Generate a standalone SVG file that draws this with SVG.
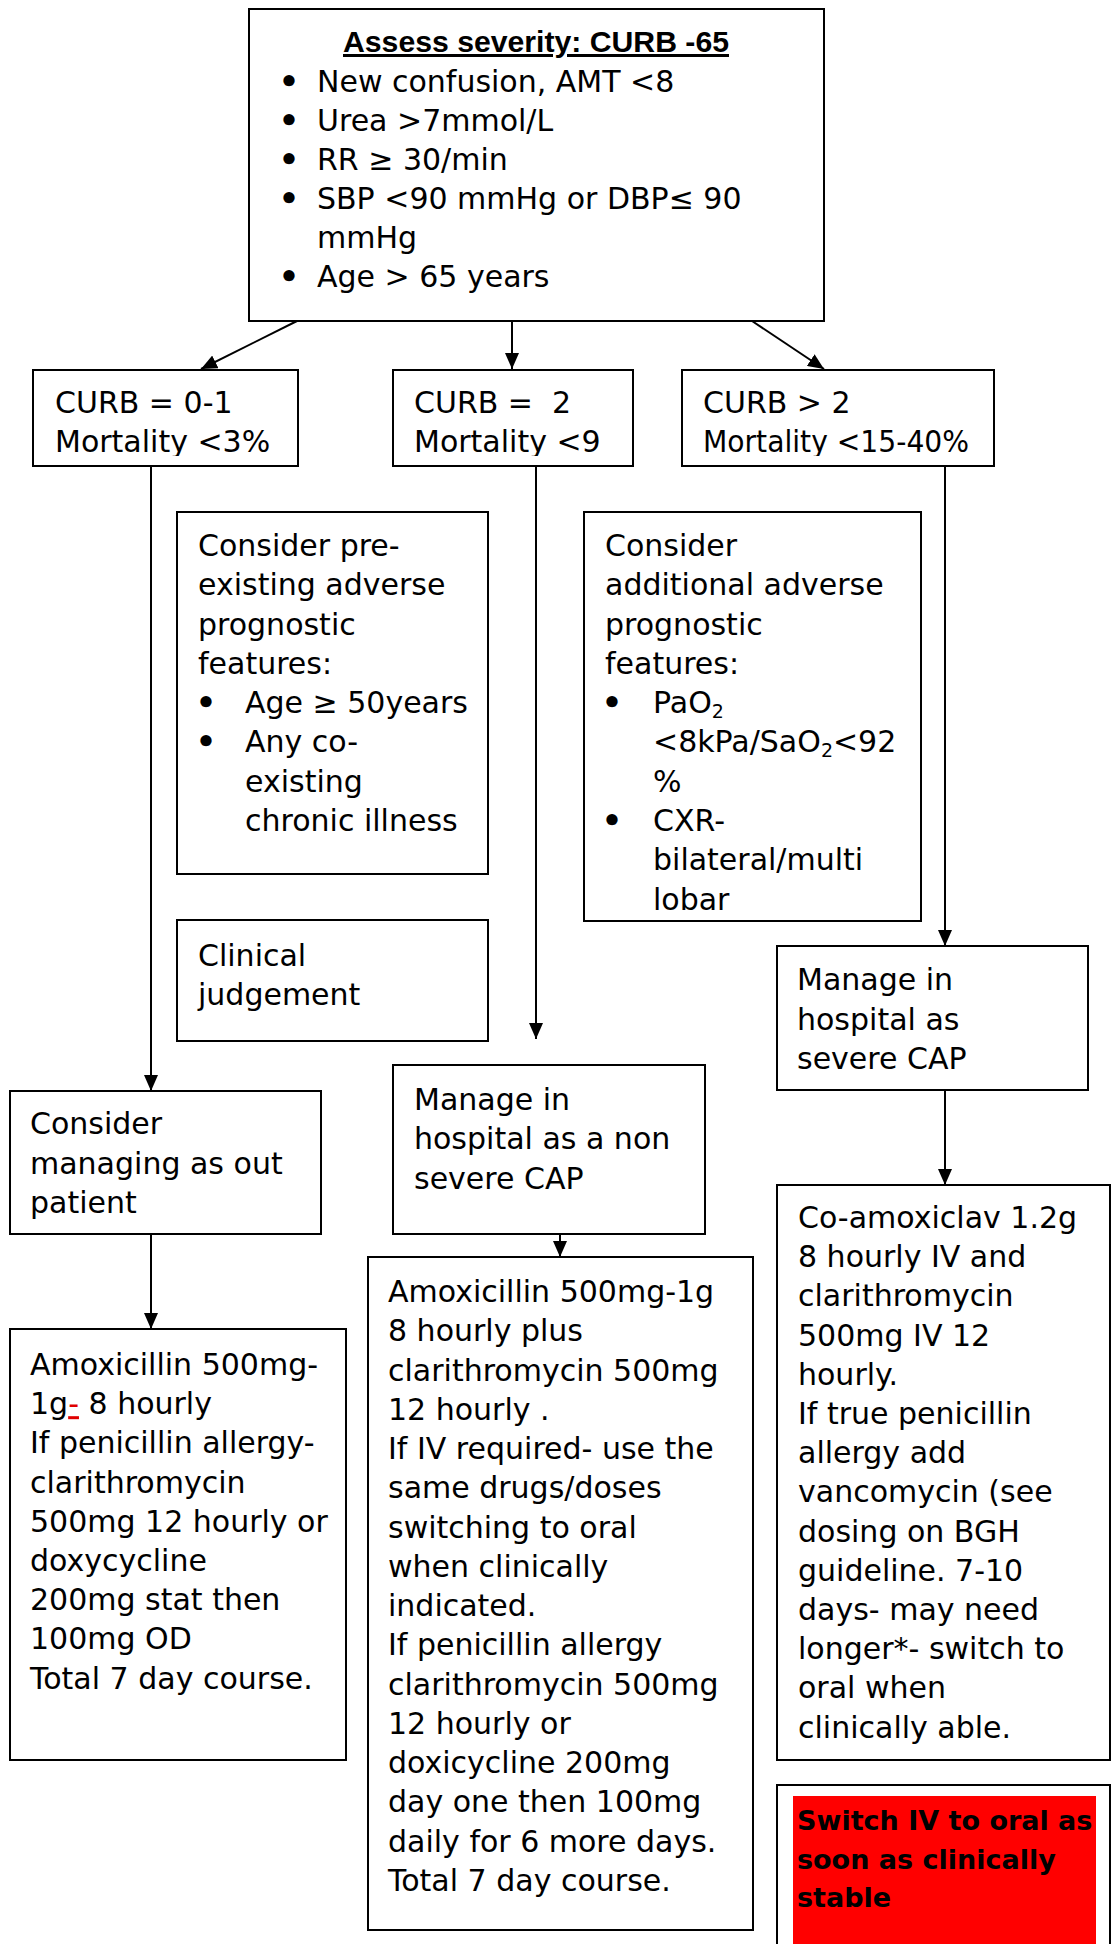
<svg xmlns="http://www.w3.org/2000/svg" width="1112" height="1944" viewBox="0 0 1112 1944">
<style>
.box{fill:#fff;stroke:#000;stroke-width:2}
.t{font-family:"DejaVu Sans","Liberation Sans",sans-serif;font-size:30px;fill:#000}
.b{font-family:"DejaVu Sans","Liberation Sans",sans-serif;font-weight:bold;fill:#000}
.bul{font-family:"DejaVu Sans","Liberation Sans",sans-serif;font-size:32px;font-weight:bold;fill:#000;text-anchor:middle}
.conn{stroke:#000;stroke-width:2;fill:none;marker-end:url(#arr)}
</style>
<defs>
<marker id="arr" viewBox="0 0 16 14" refX="16" refY="7" markerWidth="16" markerHeight="14" orient="auto" markerUnits="userSpaceOnUse">
<path d="M0,0 L16,7 L0,14 z" fill="#000"/>
</marker>
<clipPath id="clipA"><rect x="33" y="370" width="265" height="86"/></clipPath>
<clipPath id="clipB"><rect x="393" y="370" width="240" height="86"/></clipPath>
<clipPath id="clipC"><rect x="682" y="370" width="312" height="86"/></clipPath>
</defs>
<rect x="0" y="0" width="1112" height="1944" fill="#fff"/>

<g id="connectors">
<line class="conn" x1="297" y1="321" x2="201" y2="369"/>
<line class="conn" x1="512" y1="321" x2="512" y2="369"/>
<line class="conn" x1="752" y1="321" x2="824" y2="369"/>
<line class="conn" x1="151" y1="466" x2="151" y2="1091"/>
<line class="conn" x1="536" y1="466" x2="536" y2="1039"/>
<line class="conn" x1="945" y1="466" x2="945" y2="946"/>
<line class="conn" x1="151" y1="1234" x2="151" y2="1329"/>
<line class="conn" x1="560" y1="1234" x2="560" y2="1257"/>
<line class="conn" x1="945" y1="1090" x2="945" y2="1185"/>
</g>

<g id="assess">
<rect class="box" x="249" y="9" width="575" height="312"/>
<text x="536" y="52" font-family="'Liberation Sans',Arial,sans-serif" font-weight="bold" font-size="30" fill="#000" text-anchor="middle" text-decoration="underline" textLength="386" lengthAdjust="spacingAndGlyphs">Assess severity: CURB -65</text>
<text class="bul" x="289" y="93">•</text>
<text class="bul" x="289" y="132">•</text>
<text class="bul" x="289" y="171">•</text>
<text class="bul" x="289" y="210">•</text>
<text class="bul" x="289" y="288">•</text>
<text class="t" x="317" y="92"><tspan x="317">New confusion, AMT &lt;8</tspan><tspan x="317" dy="39">Urea &gt;7mmol/L</tspan><tspan x="317" dy="39">RR ≥ 30/min</tspan><tspan x="317" dy="39">SBP &lt;90 mmHg or DBP≤ 90</tspan><tspan x="317" dy="39">mmHg</tspan><tspan x="317" dy="39">Age &gt; 65 years</tspan></text>
</g>

<g id="curb01">
<rect class="box" x="33" y="370" width="265" height="96"/>
<text class="t" x="55" y="413" clip-path="url(#clipA)"><tspan x="55">CURB = 0-1</tspan><tspan x="55" dy="39">Mortality &lt;3%</tspan></text>
</g>

<g id="curb2">
<rect class="box" x="393" y="370" width="240" height="96"/>
<text class="t" x="414" y="413" clip-path="url(#clipB)" xml:space="preserve"><tspan x="414">CURB =  2</tspan><tspan x="414" dy="39">Mortality &lt;9</tspan></text>
</g>

<g id="curb3">
<rect class="box" x="682" y="370" width="312" height="96"/>
<text class="t" x="703" y="413" clip-path="url(#clipC)"><tspan x="703">CURB &gt; 2</tspan><tspan x="703" dy="39" textLength="266" lengthAdjust="spacingAndGlyphs">Mortality &lt;15-40%</tspan></text>
</g>

<g id="preexisting">
<rect class="box" x="177" y="512" width="311" height="362"/>
<text class="t" x="198" y="556"><tspan x="198">Consider pre-</tspan><tspan x="198" dy="39.3">existing adverse</tspan><tspan x="198" dy="39.3">prognostic</tspan><tspan x="198" dy="39.3">features:</tspan></text>
<text class="bul" x="206" y="714">•</text>
<text class="bul" x="206" y="753">•</text>
<text class="t" x="245" y="713"><tspan x="245">Age ≥ 50years</tspan><tspan x="245" dy="39.3">Any co-</tspan><tspan x="245" dy="39.3">existing</tspan><tspan x="245" dy="39.3">chronic illness</tspan></text>
</g>

<g id="clinical">
<rect class="box" x="177" y="920" width="311" height="121"/>
<text class="t" x="198" y="966"><tspan x="198">Clinical</tspan><tspan x="198" dy="39">judgement</tspan></text>
</g>

<g id="additional">
<rect class="box" x="584" y="512" width="337" height="409"/>
<text class="t" x="605" y="556"><tspan x="605">Consider</tspan><tspan x="605" dy="39.3">additional adverse</tspan><tspan x="605" dy="39.3">prognostic</tspan><tspan x="605" dy="39.3">features:</tspan></text>
<text class="bul" x="612" y="714">•</text>
<text class="bul" x="612" y="832">•</text>
<text class="t" x="653" y="713">PaO<tspan font-size="19" dy="5">2</tspan></text>
<text class="t" x="653" y="752">&lt;8kPa/SaO<tspan font-size="19" dy="5">2</tspan><tspan dy="-5">&lt;92</tspan></text>
<text class="t" x="653" y="792">%</text>
<text class="t" x="653" y="831"><tspan x="653">CXR-</tspan><tspan x="653" dy="39.3">bilateral/multi</tspan><tspan x="653" dy="39.3">lobar</tspan></text>
</g>

<g id="outpatient">
<rect class="box" x="10" y="1091" width="311" height="143"/>
<text class="t" x="30" y="1134"><tspan x="30">Consider</tspan><tspan x="30" dy="39.5">managing as out</tspan><tspan x="30" dy="39.5">patient</tspan></text>
</g>

<g id="nonsevere">
<rect class="box" x="393" y="1065" width="312" height="169"/>
<text class="t" x="414" y="1110"><tspan x="414">Manage in</tspan><tspan x="414" dy="39.3">hospital as a non</tspan><tspan x="414" dy="39.3">severe CAP</tspan></text>
</g>

<g id="severe">
<rect class="box" x="777" y="946" width="311" height="144"/>
<text class="t" x="797" y="990"><tspan x="797">Manage in</tspan><tspan x="797" dy="39.5">hospital as</tspan><tspan x="797" dy="39.5">severe CAP</tspan></text>
</g>

<g id="tx-outpatient">
<rect class="box" x="10" y="1329" width="336" height="431"/>
<text class="t" x="30" y="1375"><tspan x="30">Amoxicillin 500mg-</tspan><tspan x="30" dy="39.2">1g<tspan fill="#e00000" text-decoration="underline">-</tspan> 8 hourly</tspan><tspan x="30" dy="39.2">If penicillin allergy-</tspan><tspan x="30" dy="39.2">clarithromycin</tspan><tspan x="30" dy="39.2">500mg 12 hourly or</tspan><tspan x="30" dy="39.2">doxycycline</tspan><tspan x="30" dy="39.2">200mg stat then</tspan><tspan x="30" dy="39.2">100mg OD</tspan><tspan x="30" dy="39.2">Total 7 day course.</tspan></text>
</g>

<g id="tx-nonsevere">
<rect class="box" x="368" y="1257" width="385" height="673"/>
<text class="t" x="388" y="1302"><tspan x="388">Amoxicillin 500mg-1g</tspan><tspan x="388" dy="39.25">8 hourly plus</tspan><tspan x="388" dy="39.25">clarithromycin 500mg</tspan><tspan x="388" dy="39.25">12 hourly .</tspan><tspan x="388" dy="39.25">If IV required- use the</tspan><tspan x="388" dy="39.25">same drugs/doses</tspan><tspan x="388" dy="39.25">switching to oral</tspan><tspan x="388" dy="39.25">when clinically</tspan><tspan x="388" dy="39.25">indicated.</tspan><tspan x="388" dy="39.25">If penicillin allergy</tspan><tspan x="388" dy="39.25">clarithromycin 500mg</tspan><tspan x="388" dy="39.25">12 hourly or</tspan><tspan x="388" dy="39.25">doxicycline 200mg</tspan><tspan x="388" dy="39.25">day one then 100mg</tspan><tspan x="388" dy="39.25">daily for 6 more days.</tspan><tspan x="388" dy="39.25">Total 7 day course.</tspan></text>
</g>

<g id="tx-severe">
<rect class="box" x="777" y="1185" width="333" height="575"/>
<text class="t" x="798" y="1228"><tspan x="798">Co-amoxiclav 1.2g</tspan><tspan x="798" dy="39.2">8 hourly IV and</tspan><tspan x="798" dy="39.2">clarithromycin</tspan><tspan x="798" dy="39.2">500mg IV 12</tspan><tspan x="798" dy="39.2">hourly.</tspan><tspan x="798" dy="39.2">If true penicillin</tspan><tspan x="798" dy="39.2">allergy add</tspan><tspan x="798" dy="39.2">vancomycin (see</tspan><tspan x="798" dy="39.2">dosing on BGH</tspan><tspan x="798" dy="39.2">guideline. 7-10</tspan><tspan x="798" dy="39.2">days- may need</tspan><tspan x="798" dy="39.2">longer*- switch to</tspan><tspan x="798" dy="39.2">oral when</tspan><tspan x="798" dy="39.2">clinically able.</tspan></text>
</g>

<g id="switch">
<rect class="box" x="777" y="1785" width="333" height="170"/>
<rect x="793" y="1796" width="303" height="160" fill="#ff0000"/>
<text class="b" x="797" y="1830" font-size="27"><tspan x="797">Switch IV to oral as</tspan><tspan x="797" dy="38.5">soon as clinically</tspan><tspan x="797" dy="38.5">stable</tspan></text>
</g>
</svg>
